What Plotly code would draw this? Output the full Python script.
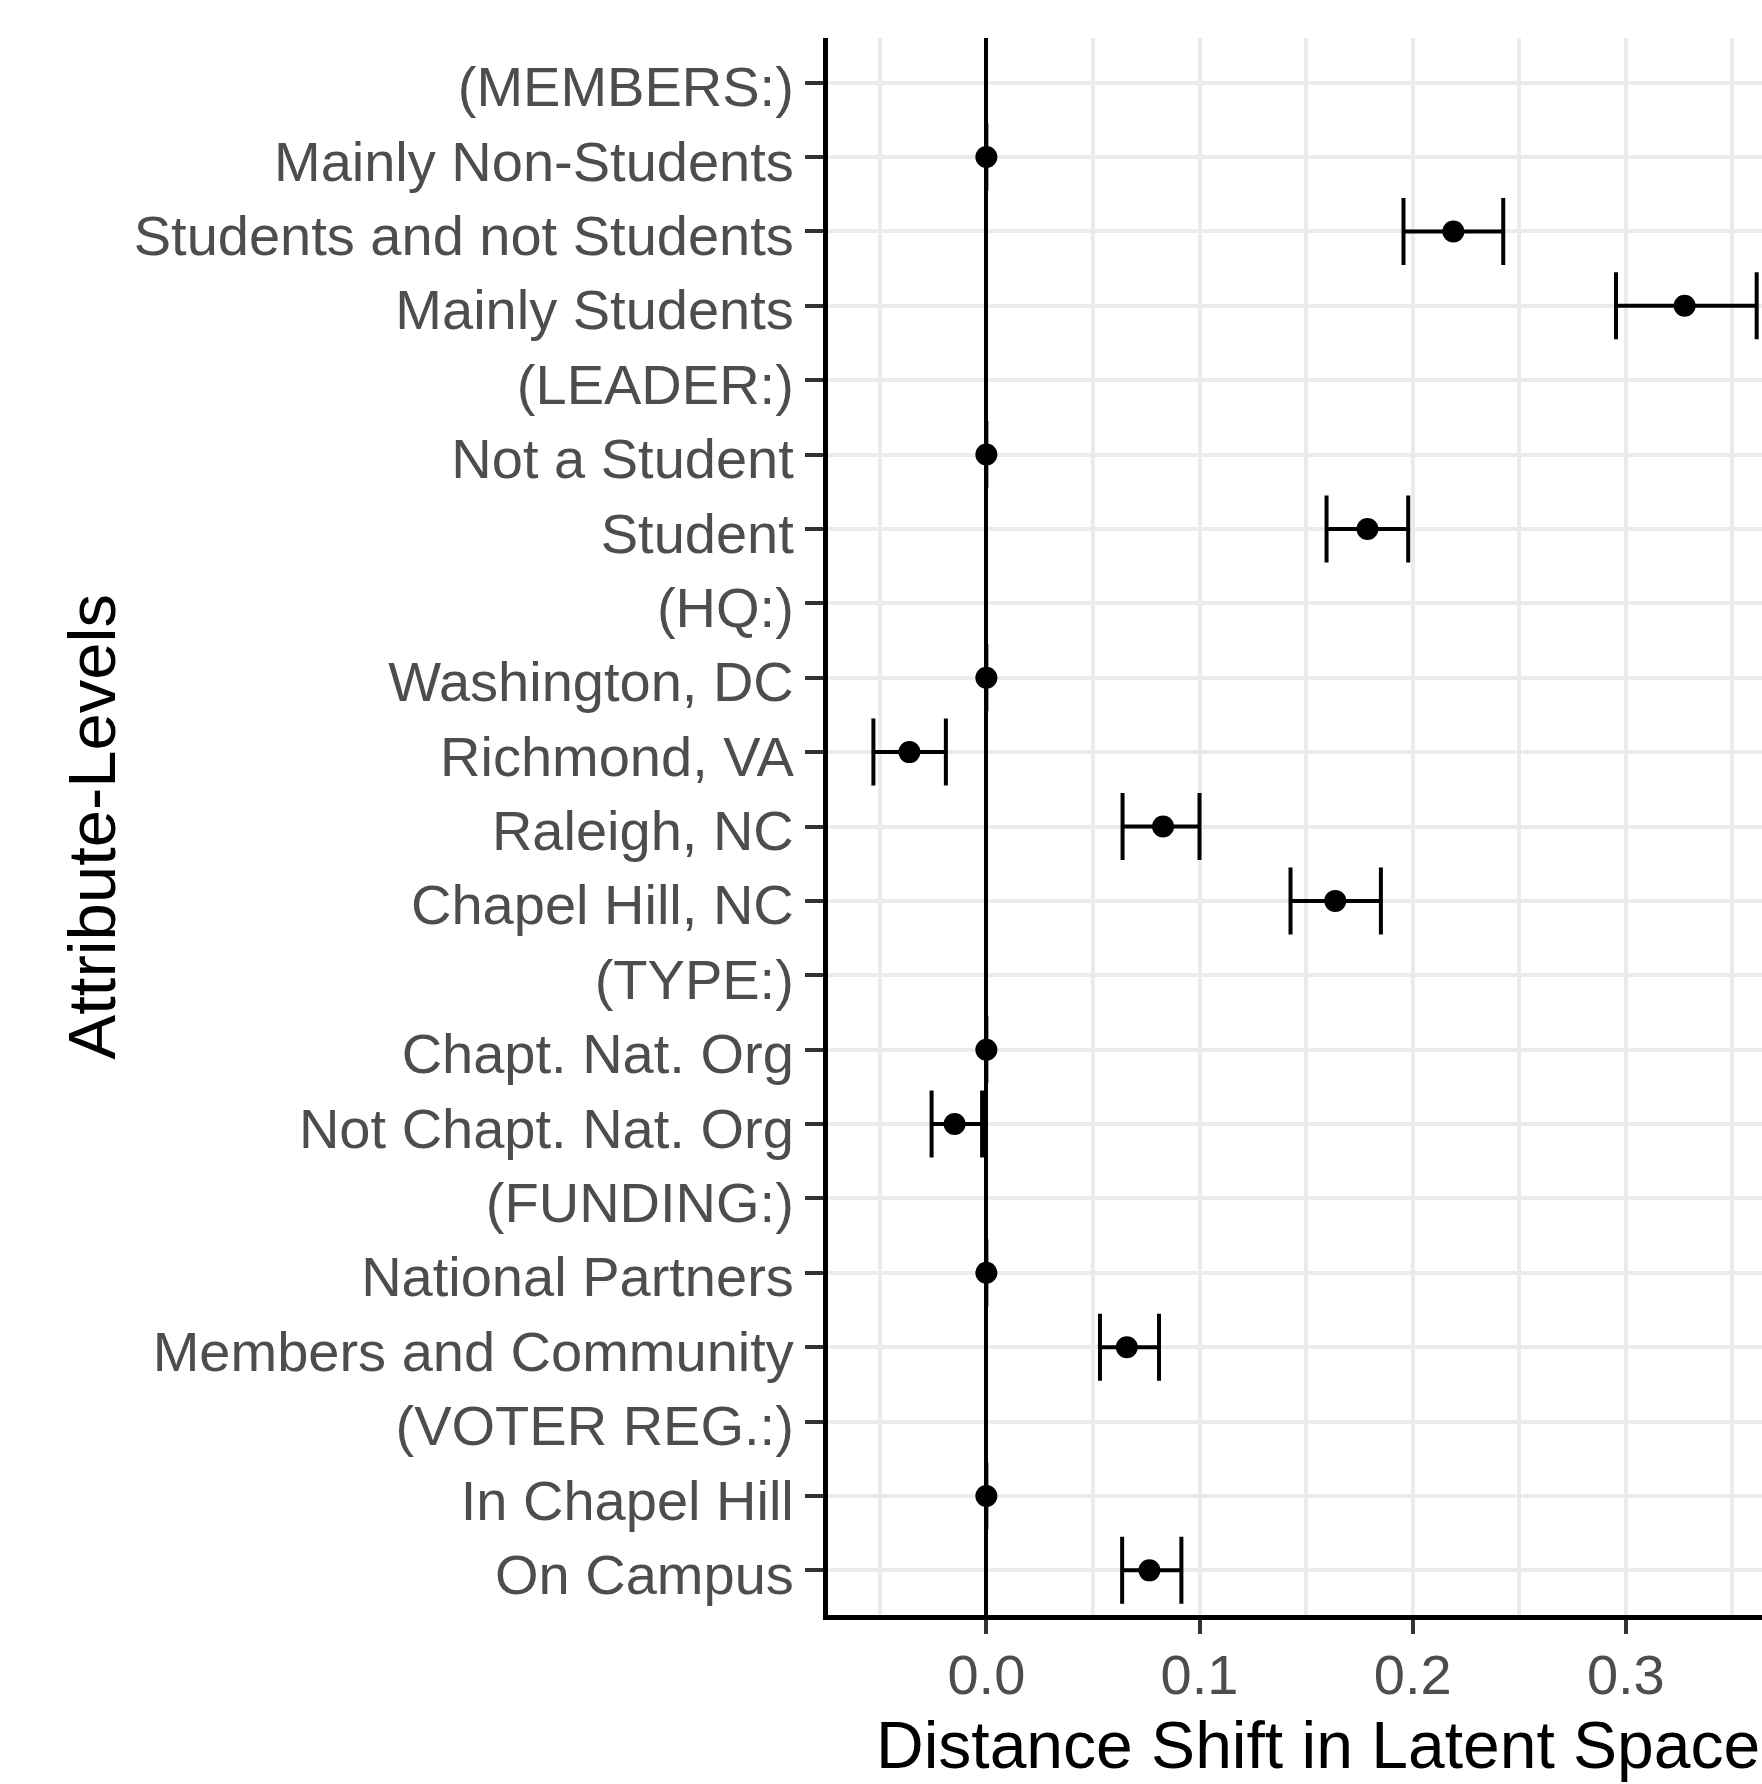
import plotly.graph_objects as go

# Attribute levels, top to bottom; header rows carry no estimate
levels = [
    "(MEMBERS:)", "Mainly Non-Students", "Students and not Students", "Mainly Students",
    "(LEADER:)", "Not a Student", "Student",
    "(HQ:)", "Washington, DC", "Richmond, VA", "Raleigh, NC", "Chapel Hill, NC",
    "(TYPE:)", "Chapt. Nat. Org", "Not Chapt. Nat. Org",
    "(FUNDING:)", "National Partners", "Members and Community",
    "(VOTER REG.:)", "In Chapel Hill", "On Campus",
]
estimate = [
    None, 0.0, 0.2191, 0.3276,
    None, 0.0, 0.1788,
    None, 0.0, -0.0361, 0.0829, 0.1637,
    None, 0.0, -0.0149,
    None, 0.0, 0.0659,
    None, 0.0, 0.0765,
]
ci_low = [
    None, 0.0, 0.1957, 0.2954,
    None, 0.0, 0.1596,
    None, 0.0, -0.0530, 0.0639, 0.1427,
    None, 0.0, -0.0257,
    None, 0.0, 0.0533,
    None, 0.0, 0.0637,
]
ci_high = [
    None, 0.0, 0.2425, 0.3614,
    None, 0.0, 0.1979,
    None, 0.0, -0.0190, 0.1000, 0.1851,
    None, 0.0, -0.0020,
    None, 0.0, 0.0810,
    None, 0.0, 0.0915,
]
x_ticks = [0.0, 0.1, 0.2, 0.3]
x_tick_text = ["0.0", "0.1", "0.2", "0.3"]
x_minor = [-0.05, 0.05, 0.15, 0.25, 0.35]

err_plus = [None if e is None else h - e for e, h in zip(estimate, ci_high)]
err_minus = [None if e is None else e - l for e, l in zip(estimate, ci_low)]

FONT = "Liberation Sans, Arial, sans-serif"
GRID = "#EBEBEB"

fig = go.Figure()
fig.add_trace(go.Scatter(
    x=estimate,
    y=levels,
    mode="markers",
    marker=dict(color="black", size=22, line=dict(width=0)),
    error_x=dict(
        type="data", symmetric=False,
        array=err_plus, arrayminus=err_minus,
        color="black", thickness=4, width=33.5,
    ),
    showlegend=False,
    hoverinfo="skip",
))

fig.update_layout(
    width=1762, height=1784,
    margin=dict(l=828, r=0, t=38, b=169, pad=0),
    paper_bgcolor="white", plot_bgcolor="white",
    font=dict(family=FONT),
    xaxis=dict(
        range=[-0.0743, 0.3639],
        tickmode="array", tickvals=x_ticks, ticktext=x_tick_text,
        showgrid=True, gridcolor=GRID, gridwidth=4,
        minor=dict(tickmode="array", tickvals=x_minor, showgrid=True,
                   gridcolor=GRID, gridwidth=4, ticks=""),
        zeroline=True, zerolinecolor="black", zerolinewidth=4,
        showline=True, linecolor="black", linewidth=5,
        ticks="outside", ticklen=14, tickwidth=4, tickcolor="#333333",
        tickfont=dict(size=56, color="#4D4D4D", family=FONT),
        ticklabelstandoff=-7,
        fixedrange=True,
    ),
    yaxis=dict(
        type="category",
        categoryorder="array", categoryarray=levels,
        range=[len(levels) - 0.4, -0.6],
        showgrid=True, gridcolor=GRID, gridwidth=4,
        zeroline=False,
        showline=True, linecolor="black", linewidth=5,
        ticks="outside", ticklen=18, tickwidth=4, tickcolor="#333333",
        tickfont=dict(size=56, color="#4D4D4D", family=FONT),
        ticklabelshift=-4,
        fixedrange=True,
    ),
    annotations=[
        dict(text="Distance Shift in Latent Space", xref="paper", yref="paper",
             x=1.0, y=(1615 - 1745) / 1577,
             xanchor="right", yanchor="middle", showarrow=False,
             font=dict(size=66, color="black", family=FONT)),
        dict(text="Attribute-Levels", xref="paper", yref="paper",
             x=(91 - 828) / 934, y=0.5, textangle=-90,
             xanchor="center", yanchor="middle", showarrow=False,
             font=dict(size=67, color="black", family=FONT)),
    ],
)

fig.write_html("out.html", config={"displayModeBar": False})
